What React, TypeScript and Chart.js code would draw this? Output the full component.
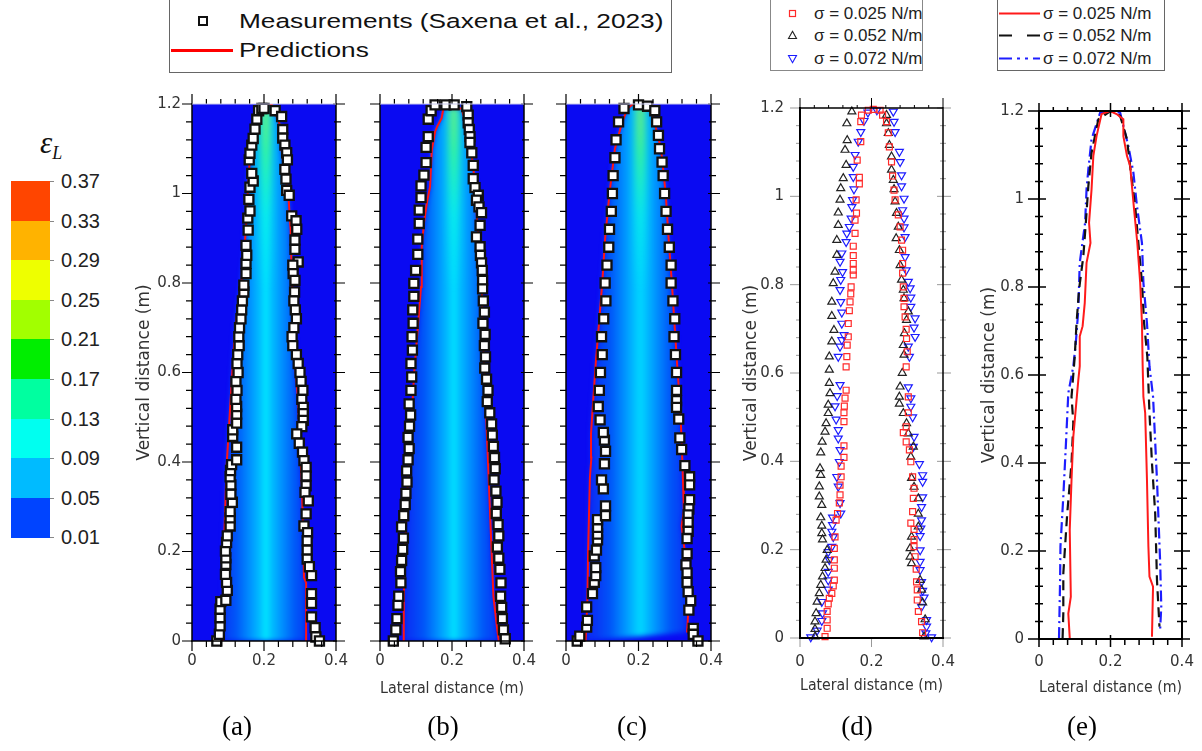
import React, { useEffect, useRef } from "react";
import { Chart, registerables } from "chart.js";

const blurPlugin = {
  id: "dsBlur",
  beforeDatasetDraw(chart: any, args: any) {
    const ds = chart.data.datasets[args.index];
    if (ds && ds.blur) {
      chart.ctx.save();
      chart.ctx.filter = `blur(${ds.blur}px)`;
    }
  },
  afterDatasetDraw(chart: any, args: any) {
    const ds = chart.data.datasets[args.index];
    if (ds && ds.blur) chart.ctx.restore();
  },
};
Chart.register(blurPlugin as any);
Chart.register(...registerables);

type Pt = [number, number];

// ---------------- axis ticks ----------------
const X_MAJOR = [0, 0.2, 0.4];
const X_MINOR = [0.04, 0.08, 0.12, 0.16, 0.24, 0.28, 0.32, 0.36];
const Y_MAJOR = [0, 0.2, 0.4, 0.6, 0.8, 1.0, 1.2];
const Y_MINOR = [0.04, 0.08, 0.12, 0.16, 0.24, 0.28, 0.32, 0.36, 0.44, 0.48, 0.52, 0.56, 0.64, 0.68, 0.72, 0.76, 0.84, 0.88, 0.92, 0.96, 1.04, 1.08, 1.12, 1.16];

// ---------------- colour bar ----------------
const CB_LABELS = ["0.37", "0.33", "0.29", "0.25", "0.21", "0.17", "0.13", "0.09", "0.05", "0.01"];
const CB_COLORS = ["#FF4500", "#FFB300", "#EEFF00", "#A2FF00", "#00EE00", "#00FFA0", "#00FFF0", "#00BBFF", "#0044FF"];

// ---------------- panel (a) ----------------
const A_MEAS_L: Pt[] = [[0.069,0.0],[0.076,0.015],[0.078,0.034],[0.078,0.052],[0.078,0.071],[0.08,0.088],[0.094,0.091],[0.098,0.113],[0.096,0.131],[0.093,0.149],[0.094,0.171],[0.094,0.186],[0.093,0.201],[0.096,0.22],[0.098,0.235],[0.106,0.257],[0.106,0.275],[0.106,0.289],[0.112,0.31],[0.108,0.328],[0.108,0.349],[0.106,0.367],[0.107,0.381],[0.11,0.394],[0.124,0.405],[0.124,0.433],[0.113,0.457],[0.113,0.472],[0.124,0.487],[0.124,0.507],[0.124,0.524],[0.122,0.54],[0.125,0.56],[0.122,0.58],[0.128,0.6],[0.125,0.62],[0.127,0.64],[0.131,0.66],[0.13,0.68],[0.132,0.7],[0.136,0.72],[0.138,0.74],[0.14,0.76],[0.144,0.78],[0.144,0.795],[0.15,0.821],[0.15,0.844],[0.152,0.862],[0.15,0.884],[0.156,0.918],[0.155,0.945],[0.161,0.961],[0.158,0.987],[0.161,1.014],[0.17,1.028],[0.166,1.045],[0.159,1.075],[0.161,1.09],[0.166,1.108],[0.17,1.123],[0.175,1.144],[0.18,1.166],[0.185,1.185],[0.194,1.19]];
const A_MEAS_R: Pt[] = [[0.2,1.19],[0.231,1.185],[0.249,1.172],[0.252,1.143],[0.252,1.124],[0.258,1.108],[0.263,1.091],[0.265,1.075],[0.258,1.054],[0.261,1.032],[0.263,1.007],[0.27,0.996],[0.277,0.95],[0.289,0.939],[0.291,0.92],[0.286,0.896],[0.286,0.875],[0.295,0.847],[0.28,0.84],[0.281,0.821],[0.286,0.806],[0.285,0.78],[0.283,0.76],[0.287,0.74],[0.29,0.72],[0.283,0.7],[0.278,0.68],[0.28,0.66],[0.29,0.64],[0.295,0.62],[0.3,0.6],[0.303,0.58],[0.308,0.56],[0.305,0.54],[0.309,0.522],[0.309,0.508],[0.309,0.493],[0.305,0.479],[0.291,0.463],[0.298,0.442],[0.307,0.422],[0.311,0.403],[0.317,0.388],[0.317,0.369],[0.317,0.347],[0.314,0.332],[0.323,0.313],[0.317,0.284],[0.311,0.257],[0.321,0.242],[0.32,0.224],[0.32,0.203],[0.32,0.183],[0.326,0.166],[0.332,0.146],[0.332,0.106],[0.332,0.084],[0.332,0.054],[0.342,0.03],[0.344,0.009],[0.354,0.0]];
const A_PRED_L: Pt[] = [[0.085,0],[0.088,0.13],[0.09,0.24],[0.096,0.39],[0.106,0.522],[0.112,0.6],[0.12,0.7],[0.137,0.8],[0.145,0.87],[0.152,0.948],[0.156,1.02],[0.161,1.082],[0.17,1.142],[0.184,1.186],[0.195,1.2]];
const A_PRED_R: Pt[] = [[0.221,1.2],[0.243,1.156],[0.249,1.097],[0.255,1.06],[0.268,0.993],[0.274,0.918],[0.277,0.821],[0.283,0.7],[0.288,0.6],[0.295,0.537],[0.298,0.46],[0.305,0.35],[0.309,0.24],[0.311,0.142],[0.317,0.13],[0.317,0]];

// ---------------- panel (b) ----------------
const B_MEAS_L: Pt[] = [[0.037,0.0],[0.044,0.025],[0.047,0.05],[0.05,0.08],[0.052,0.1],[0.058,0.13],[0.057,0.155],[0.06,0.18],[0.063,0.205],[0.065,0.23],[0.06,0.255],[0.066,0.28],[0.07,0.305],[0.072,0.33],[0.075,0.355],[0.074,0.38],[0.078,0.405],[0.081,0.43],[0.078,0.455],[0.082,0.48],[0.085,0.505],[0.081,0.53],[0.086,0.56],[0.088,0.59],[0.086,0.62],[0.09,0.65],[0.089,0.68],[0.092,0.71],[0.091,0.74],[0.094,0.77],[0.094,0.799],[0.099,0.828],[0.105,0.864],[0.105,0.898],[0.109,0.933],[0.109,0.963],[0.114,0.991],[0.114,1.017],[0.122,1.041],[0.128,1.069],[0.128,1.103],[0.134,1.127],[0.134,1.166],[0.142,1.185],[0.153,1.198]];
const B_MEAS_R: Pt[] = [[0.183,1.198],[0.206,1.198],[0.241,1.194],[0.245,1.175],[0.245,1.158],[0.248,1.143],[0.25,1.127],[0.25,1.114],[0.255,1.091],[0.259,1.063],[0.259,1.033],[0.264,1.013],[0.273,0.996],[0.268,0.985],[0.275,0.97],[0.282,0.957],[0.278,0.929],[0.268,0.903],[0.278,0.881],[0.279,0.862],[0.282,0.845],[0.284,0.828],[0.285,0.806],[0.285,0.787],[0.287,0.76],[0.29,0.735],[0.286,0.71],[0.292,0.685],[0.29,0.66],[0.293,0.635],[0.291,0.61],[0.296,0.585],[0.3,0.56],[0.298,0.535],[0.305,0.51],[0.31,0.485],[0.312,0.46],[0.315,0.435],[0.318,0.41],[0.32,0.385],[0.317,0.36],[0.322,0.335],[0.325,0.31],[0.323,0.285],[0.328,0.26],[0.33,0.235],[0.326,0.21],[0.33,0.185],[0.333,0.16],[0.336,0.13],[0.335,0.1],[0.338,0.075],[0.34,0.05],[0.343,0.025],[0.348,0.005]];
const B_PRED_L: Pt[] = [[0.064,0],[0.066,0.1],[0.07,0.2],[0.074,0.3],[0.08,0.4],[0.088,0.5],[0.095,0.6],[0.105,0.7],[0.114,0.791],[0.116,0.881],[0.122,0.933],[0.13,0.978],[0.139,1.015],[0.144,1.097],[0.153,1.138],[0.159,1.15],[0.171,1.168],[0.176,1.19]];
const B_PRED_R: Pt[] = [[0.227,1.19],[0.245,1.135],[0.259,1.06],[0.267,0.985],[0.27,0.933],[0.278,0.873],[0.282,0.813],[0.285,0.7],[0.29,0.6],[0.295,0.5],[0.3,0.4],[0.305,0.3],[0.31,0.2],[0.315,0.1],[0.325,0.03],[0.33,0]];

// ---------------- panel (c) ----------------
const C_MEAS_L: Pt[] = [[0.031,0],[0.038,0.011],[0.057,0.031],[0.059,0.046],[0.057,0.076],[0.073,0.106],[0.078,0.131],[0.082,0.146],[0.082,0.164],[0.078,0.19],[0.084,0.203],[0.087,0.226],[0.087,0.239],[0.087,0.254],[0.087,0.271],[0.109,0.28],[0.109,0.302],[0.103,0.34],[0.098,0.36],[0.106,0.396],[0.109,0.424],[0.106,0.449],[0.103,0.466],[0.094,0.494],[0.089,0.524],[0.092,0.56],[0.095,0.6],[0.1,0.64],[0.098,0.68],[0.104,0.72],[0.11,0.76],[0.108,0.8],[0.113,0.84],[0.118,0.88],[0.12,0.92],[0.125,0.96],[0.128,1.0],[0.13,1.04],[0.135,1.08],[0.138,1.12],[0.145,1.16],[0.16,1.19]];
const C_MEAS_R: Pt[] = [[0.2,1.198],[0.225,1.195],[0.245,1.185],[0.25,1.16],[0.255,1.13],[0.258,1.1],[0.265,1.07],[0.268,1.04],[0.272,1.0],[0.276,0.96],[0.28,0.92],[0.285,0.88],[0.29,0.84],[0.29,0.8],[0.295,0.76],[0.3,0.72],[0.298,0.68],[0.302,0.64],[0.305,0.6],[0.305,0.56],[0.305,0.537],[0.305,0.522],[0.311,0.496],[0.314,0.454],[0.319,0.428],[0.328,0.392],[0.341,0.367],[0.341,0.349],[0.341,0.316],[0.339,0.295],[0.337,0.282],[0.337,0.265],[0.337,0.245],[0.334,0.229],[0.334,0.195],[0.331,0.17],[0.334,0.152],[0.334,0.131],[0.337,0.11],[0.344,0.09],[0.339,0.069],[0.351,0.028],[0.351,0.015],[0.364,0]];
const C_PRED_L: Pt[] = [[0.054,0],[0.059,0.09],[0.061,0.2],[0.066,0.366],[0.07,0.41],[0.069,0.463],[0.075,0.537],[0.082,0.62],[0.09,0.7],[0.1,0.8],[0.108,0.9],[0.12,1.0],[0.135,1.1],[0.155,1.16],[0.17,1.19],[0.185,1.2]];
const C_PRED_R: Pt[] = [[0.22,1.2],[0.235,1.19],[0.262,1.1],[0.275,1.0],[0.283,0.9],[0.292,0.8],[0.3,0.7],[0.308,0.6],[0.314,0.537],[0.319,0.448],[0.323,0.351],[0.325,0.291],[0.319,0.257],[0.331,0.179],[0.339,0.09],[0.334,0.019]];

// jet core near the nozzle (top)
const CORE_SHAPE: Pt[] = [[0.186,0.78],[0.19,0.95],[0.194,1.1],[0.199,1.2],[0.211,1.2],[0.216,1.1],[0.22,0.95],[0.224,0.78]];

// ---------------- panel (d) ----------------
const D_025: Pt[] = [[0.07,0.003],[0.076,0.022],[0.076,0.041],[0.076,0.06],[0.079,0.077],[0.082,0.09],[0.089,0.101],[0.093,0.118],[0.096,0.131],[0.096,0.158],[0.096,0.177],[0.096,0.203],[0.098,0.229],[0.101,0.267],[0.105,0.282],[0.11,0.306],[0.112,0.324],[0.112,0.346],[0.115,0.365],[0.115,0.389],[0.123,0.409],[0.123,0.435],[0.123,0.49],[0.123,0.51],[0.124,0.525],[0.126,0.543],[0.129,0.561],[0.129,0.614],[0.131,0.637],[0.132,0.663],[0.135,0.682],[0.135,0.712],[0.138,0.741],[0.14,0.761],[0.142,0.779],[0.143,0.795],[0.149,0.822],[0.149,0.833],[0.149,0.848],[0.149,0.866],[0.149,0.887],[0.154,0.916],[0.154,0.946],[0.158,0.962],[0.157,0.992],[0.166,1.028],[0.166,1.043],[0.16,1.082],[0.17,1.124],[0.17,1.169],[0.172,1.184],[0.191,1.195],[0.205,1.197],[0.224,1.195],[0.231,1.184],[0.242,1.169],[0.247,1.144],[0.25,1.112],[0.256,1.078],[0.259,1.046],[0.263,1.014],[0.266,0.992],[0.275,0.958],[0.28,0.931],[0.284,0.901],[0.287,0.878],[0.287,0.848],[0.287,0.826],[0.289,0.795],[0.291,0.769],[0.291,0.75],[0.294,0.727],[0.297,0.699],[0.298,0.678],[0.3,0.648],[0.297,0.614],[0.303,0.546],[0.303,0.51],[0.297,0.478],[0.289,0.465],[0.297,0.444],[0.306,0.426],[0.31,0.399],[0.315,0.365],[0.319,0.339],[0.317,0.316],[0.315,0.286],[0.31,0.26],[0.319,0.246],[0.319,0.223],[0.319,0.207],[0.322,0.184],[0.325,0.156],[0.326,0.127],[0.328,0.109],[0.328,0.086],[0.331,0.06],[0.34,0.037],[0.343,0.012]];
const D_052: Pt[] = [[0.042,0.003],[0.042,0.02],[0.042,0.037],[0.045,0.056],[0.048,0.082],[0.054,0.101],[0.058,0.12],[0.063,0.139],[0.07,0.158],[0.073,0.177],[0.076,0.199],[0.063,0.223],[0.061,0.237],[0.061,0.254],[0.058,0.273],[0.061,0.301],[0.054,0.32],[0.054,0.343],[0.058,0.369],[0.056,0.384],[0.058,0.42],[0.062,0.444],[0.07,0.467],[0.073,0.486],[0.079,0.509],[0.079,0.528],[0.084,0.554],[0.082,0.577],[0.082,0.607],[0.082,0.637],[0.089,0.671],[0.095,0.697],[0.089,0.729],[0.089,0.761],[0.093,0.803],[0.098,0.829],[0.103,0.867],[0.103,0.901],[0.107,0.935],[0.107,0.963],[0.112,0.992],[0.114,1.018],[0.121,1.041],[0.129,1.071],[0.126,1.105],[0.132,1.127],[0.131,1.165],[0.145,1.192],[0.242,1.184],[0.242,1.165],[0.247,1.143],[0.25,1.116],[0.256,1.09],[0.256,1.06],[0.261,1.037],[0.263,1.016],[0.266,0.988],[0.27,0.962],[0.275,0.931],[0.269,0.905],[0.278,0.878],[0.28,0.844],[0.284,0.811],[0.289,0.788],[0.291,0.769],[0.303,0.739],[0.298,0.72],[0.292,0.69],[0.289,0.663],[0.291,0.641],[0.286,0.6],[0.28,0.569],[0.278,0.546],[0.278,0.53],[0.289,0.509],[0.298,0.486],[0.303,0.463],[0.317,0.433],[0.31,0.41],[0.312,0.362],[0.319,0.342],[0.331,0.316],[0.331,0.281],[0.331,0.252],[0.312,0.229],[0.308,0.203],[0.308,0.184],[0.312,0.169],[0.336,0.131],[0.34,0.109],[0.343,0.08],[0.35,0.042],[0.347,0.003]];
const D_072: Pt[] = [[0.03,0.002],[0.048,0.017],[0.061,0.039],[0.063,0.056],[0.061,0.082],[0.079,0.11],[0.079,0.131],[0.079,0.15],[0.082,0.177],[0.079,0.195],[0.089,0.207],[0.093,0.229],[0.089,0.241],[0.091,0.256],[0.091,0.273],[0.114,0.282],[0.112,0.306],[0.107,0.343],[0.103,0.365],[0.11,0.399],[0.112,0.426],[0.107,0.452],[0.107,0.471],[0.101,0.495],[0.098,0.525],[0.104,0.548],[0.112,0.573],[0.107,0.637],[0.112,0.66],[0.117,0.675],[0.123,0.686],[0.117,0.712],[0.117,0.737],[0.114,0.761],[0.112,0.788],[0.114,0.811],[0.119,0.829],[0.112,0.852],[0.117,0.871],[0.129,0.897],[0.131,0.916],[0.138,0.931],[0.143,0.95],[0.145,0.976],[0.147,0.992],[0.151,1.016],[0.149,1.044],[0.149,1.067],[0.154,1.094],[0.163,1.124],[0.17,1.146],[0.179,1.171],[0.19,1.19],[0.215,1.195],[0.261,1.192],[0.263,1.169],[0.266,1.146],[0.278,1.101],[0.28,1.078],[0.284,1.048],[0.284,1.023],[0.291,0.995],[0.287,0.969],[0.291,0.95],[0.291,0.93],[0.294,0.908],[0.294,0.863],[0.297,0.833],[0.303,0.807],[0.308,0.792],[0.31,0.771],[0.31,0.75],[0.322,0.724],[0.319,0.703],[0.322,0.682],[0.303,0.66],[0.306,0.637],[0.303,0.568],[0.31,0.543],[0.31,0.524],[0.315,0.5],[0.319,0.456],[0.317,0.433],[0.334,0.394],[0.343,0.369],[0.343,0.354],[0.343,0.319],[0.34,0.297],[0.34,0.267],[0.338,0.248],[0.336,0.231],[0.336,0.199],[0.336,0.173],[0.336,0.154],[0.34,0.127],[0.343,0.107],[0.347,0.092],[0.34,0.071],[0.354,0.041],[0.354,0.026],[0.352,0.011],[0.368,0.002]];

// ---------------- panel (e) ----------------
const E_025: Pt[] = [[0.086,0.002],[0.082,0.058],[0.089,0.096],[0.086,0.248],[0.091,0.362],[0.096,0.46],[0.11,0.589],[0.114,0.62],[0.114,0.688],[0.122,0.711],[0.128,0.764],[0.133,0.855],[0.144,0.9],[0.14,0.946],[0.147,1.022],[0.152,1.098],[0.161,1.143],[0.175,1.193],[0.199,1.2],[0.217,1.193],[0.236,1.181],[0.236,1.143],[0.246,1.098],[0.255,1.075],[0.26,1.029],[0.266,0.976],[0.275,0.9],[0.283,0.81],[0.288,0.718],[0.29,0.62],[0.292,0.551],[0.297,0.514],[0.302,0.362],[0.306,0.21],[0.309,0.142],[0.319,0.119],[0.316,0.005]];
const E_052: Pt[] = [[0.066,0.002],[0.068,0.058],[0.068,0.149],[0.079,0.286],[0.091,0.4],[0.096,0.491],[0.091,0.551],[0.1,0.642],[0.105,0.718],[0.112,0.794],[0.124,0.87],[0.131,0.946],[0.138,1.029],[0.147,1.105],[0.166,1.181],[0.2,1.2],[0.227,1.189],[0.246,1.136],[0.257,1.06],[0.269,0.984],[0.278,0.9],[0.288,0.81],[0.294,0.718],[0.303,0.642],[0.309,0.514],[0.316,0.4],[0.325,0.286],[0.33,0.134],[0.337,0.028]];
const E_072: Pt[] = [[0.056,0.002],[0.059,0.134],[0.06,0.21],[0.068,0.324],[0.075,0.438],[0.082,0.559],[0.096,0.62],[0.103,0.673],[0.11,0.749],[0.114,0.855],[0.129,0.946],[0.133,1.022],[0.138,1.067],[0.147,1.136],[0.171,1.196],[0.2,1.2],[0.227,1.196],[0.25,1.12],[0.264,1.06],[0.274,0.984],[0.288,0.9],[0.292,0.81],[0.302,0.718],[0.309,0.62],[0.319,0.551],[0.33,0.362],[0.339,0.172],[0.342,0.074],[0.339,0.024]];

const SIGMA_LABELS = ["σ = 0.025 N/m", "σ = 0.052 N/m", "σ = 0.072 N/m"];
const PANEL_LABELS = ["(a)", "(b)", "(c)", "(d)", "(e)"];

// ---------------- styling ----------------
const SANS = "'Liberation Sans', Arial, sans-serif";
const TICKF = "'DejaVu Sans', sans-serif";
const SERIF = "'Liberation Serif', 'Times New Roman', serif";
const BG_BLUE = "#0A0AF2";
const ML = 80, MR = 30, MT = 25, MB = 75;

const xy = (p: Pt[]) => p.map(([x, y]) => ({ x, y }));
const fmt = (v: number) => String(Math.round(v * 10) / 10);

interface Side { color: string; width: number; tickColor: string; tickWidth: number; majOut: number; majIn: number; minOut: number; minIn: number; }
interface Sides { left: Side; right: Side; top: Side; bottom: Side; }
interface PanelCfg {
  left: number; top: number; right: number; bottom: number;
  datasets: () => any[];
  yLabels: boolean; xPad: number; yPad: number; tickSize: number;
  yTitlePad?: number; xTitlePad?: number;
  sides: Sides; bg?: string;
}

const S = (color: string, width: number, tickColor: string, tickWidth: number, majOut: number, majIn: number, minOut: number, minIn: number): Side =>
  ({ color, width, tickColor, tickWidth, majOut, majIn, minOut, minIn });

const SIDES_ABC: Sides = {
  left: S("#000", 1.5, "#000", 1.2, 10, 0, 6, 0),
  right: S("#000", 1.5, "#000", 1.2, 9, 3, 5, 2),
  top: S("#c8c8ee", 1, "#000", 1.2, 10, 0, 5, 0),
  bottom: S("#000", 1.5, "#000", 1.2, 10, 0, 6, 0),
};
const SIDES_D: Sides = {
  left: S("#000", 2, "#999", 1, 10, 0, 4, 0),
  right: S("#000", 1.5, "#999", 1, 8, 6, 3, 3),
  top: S("#000", 1.5, "#000", 1, 10, 0, 3, 0),
  bottom: S("#000", 2, "#999", 1, 9, 0, 0, 0),
};
const SIDES_E: Sides = {
  left: S("#000", 2, "#000", 1.5, 11, 7, 4, 4),
  right: S("#000", 2, "#000", 1.5, 8, 8, 5, 5),
  top: S("#000", 2, "#000", 1.5, 8, 6, 4, 0),
  bottom: S("#000", 2, "#000", 1.5, 8, 4, 6, 0),
};

function plumeFill(center: string) {
  return (c: any) => {
    const chart = c.chart;
    const xs = chart.scales && chart.scales.x;
    if (!chart.chartArea || !xs) return center;
    const g = chart.ctx.createLinearGradient(xs.getPixelForValue(0.075), 0, xs.getPixelForValue(0.335), 0);
    g.addColorStop(0, "#0A30F4");
    g.addColorStop(0.18, "#0055F8");
    g.addColorStop(0.34, "#0095FF");
    g.addColorStop(0.46, "#00C8FF");
    g.addColorStop(0.5, center);
    g.addColorStop(0.54, "#00C8FF");
    g.addColorStop(0.66, "#0095FF");
    g.addColorStop(0.82, "#0055F8");
    g.addColorStop(1, "#0A30F4");
    return g;
  };
}
function coreFill(c: any) {
  const chart = c.chart;
  const ys = chart.scales && chart.scales.y;
  if (!chart.chartArea || !ys) return "rgba(0,0,0,0)";
  const g = chart.ctx.createLinearGradient(0, ys.getPixelForValue(0.78), 0, ys.getPixelForValue(1.2));
  g.addColorStop(0, "rgba(0,255,230,0)");
  g.addColorStop(0.4, "rgba(20,255,210,0.45)");
  g.addColorStop(0.75, "rgba(80,255,110,0.85)");
  g.addColorStop(1, "rgba(190,255,20,1)");
  return g;
}

function contourSets(measL: Pt[], measR: Pt[], predL: Pt[], predR: Pt[], center: string) {
  return () => [
    { data: xy([...predL, ...predR]), showLine: true, borderWidth: 0, borderColor: "rgba(0,0,0,0)", pointRadius: 0, fill: "shape", backgroundColor: plumeFill(center), blur: 2.5, order: 4 },
    { data: xy(CORE_SHAPE), showLine: true, borderWidth: 0, borderColor: "rgba(0,0,0,0)", pointRadius: 0, fill: "shape", backgroundColor: coreFill, blur: 4, order: 3 },
    { data: xy([...predL, ...predR]), showLine: true, borderColor: "#FF1414", borderWidth: 2, pointRadius: 0, fill: false, order: 2 },
    { data: xy([...measL, ...measR]), showLine: false, pointStyle: "rect", pointRadius: 6.4, pointBackgroundColor: "#ffffff", pointBorderColor: "#111", pointBorderWidth: 2.3, clip: false, order: 1 },
  ];
}

const markerSets = () => [
  { data: xy(D_025), showLine: false, pointStyle: "rect", pointRadius: 4.2, pointBackgroundColor: "rgba(0,0,0,0)", pointBorderColor: "#FF2A2A", pointBorderWidth: 1.2, clip: false },
  { data: xy(D_052), showLine: false, pointStyle: "triangle", pointRadius: 4.6, pointBackgroundColor: "rgba(0,0,0,0)", pointBorderColor: "#222", pointBorderWidth: 1.2, clip: false },
  { data: xy(D_072), showLine: false, pointStyle: "triangle", pointRotation: 180, pointRadius: 4.6, pointBackgroundColor: "rgba(0,0,0,0)", pointBorderColor: "#1C1CFF", pointBorderWidth: 1.2, clip: false },
];
const lineSets = () => [
  { data: xy(E_072), showLine: true, borderColor: "#1E1EFF", borderWidth: 2.2, borderDash: [11, 4, 2, 4], pointRadius: 0, fill: false, order: 3 },
  { data: xy(E_052), showLine: true, borderColor: "#111", borderWidth: 2.2, borderDash: [10, 6], pointRadius: 0, fill: false, order: 2 },
  { data: xy(E_025), showLine: true, borderColor: "#FF1A1A", borderWidth: 2, pointRadius: 0, fill: false, order: 1 },
];

const PANELS: PanelCfg[] = [
  { left: 192, top: 104, right: 336, bottom: 641, datasets: contourSets(A_MEAS_L, A_MEAS_R, A_PRED_L, A_PRED_R, "#00EEFF"), yLabels: true, xPad: 11, yPad: 11, tickSize: 15, yTitlePad: 22, sides: SIDES_ABC, bg: BG_BLUE },
  { left: 380, top: 104, right: 524, bottom: 641, datasets: contourSets(B_MEAS_L, B_MEAS_R, B_PRED_L, B_PRED_R, "#00E6FF"), yLabels: false, xPad: 11, yPad: 11, tickSize: 15, xTitlePad: 18, sides: SIDES_ABC, bg: BG_BLUE },
  { left: 566, top: 104, right: 711, bottom: 641, datasets: contourSets(C_MEAS_L, C_MEAS_R, C_PRED_L, C_PRED_R, "#00D8FF"), yLabels: false, xPad: 11, yPad: 11, tickSize: 15, sides: SIDES_ABC, bg: BG_BLUE },
  { left: 800, top: 108, right: 943, bottom: 638, datasets: markerSets, yLabels: true, xPad: 15, yPad: 16, tickSize: 15, yTitlePad: 21, xTitlePad: 18, sides: SIDES_D },
  { left: 1039, top: 111, right: 1182, bottom: 639, datasets: lineSets, yLabels: true, xPad: 14, yPad: 15, tickSize: 15, yTitlePad: 20, xTitlePad: 17, sides: SIDES_E },
];

function makeFrame(cfg: PanelCfg) {
  return {
    id: "frame",
    beforeDatasetsDraw(chart: any) {
      if (!cfg.bg) return;
      const { ctx, chartArea: a } = chart;
      ctx.save();
      ctx.fillStyle = cfg.bg;
      ctx.fillRect(a.left, a.top, a.right - a.left, a.bottom - a.top);
      ctx.restore();
    },
    afterDatasetsDraw(chart: any) {
      const { ctx, chartArea: a, scales } = chart;
      const xs = scales.x, ys = scales.y;
      ctx.save();
      ctx.lineCap = "butt";
      const tick = (s: Side, side: string, vals: number[], out: number, inn: number) => {
        if (out + inn <= 0) return;
        ctx.strokeStyle = s.tickColor;
        ctx.lineWidth = s.tickWidth;
        ctx.beginPath();
        for (const v of vals) {
          if (side === "left" || side === "right") {
            const p = ys.getPixelForValue(v);
            const x0 = side === "left" ? a.left : a.right;
            const sg = side === "left" ? -1 : 1;
            ctx.moveTo(x0 + sg * out, p);
            ctx.lineTo(x0 - sg * inn, p);
          } else {
            const p = xs.getPixelForValue(v);
            const y0 = side === "top" ? a.top : a.bottom;
            const sg = side === "top" ? -1 : 1;
            ctx.moveTo(p, y0 + sg * out);
            ctx.lineTo(p, y0 - sg * inn);
          }
        }
        ctx.stroke();
      };
      const sidesArr: (keyof Sides)[] = ["left", "right", "top", "bottom"];
      for (const side of sidesArr) {
        const s = cfg.sides[side];
        const horiz = side === "top" || side === "bottom";
        tick(s, side, horiz ? X_MINOR : Y_MINOR, s.minOut, s.minIn);
        tick(s, side, horiz ? X_MAJOR : Y_MAJOR, s.majOut, s.majIn);
      }
      for (const side of sidesArr) {
        const s = cfg.sides[side];
        ctx.strokeStyle = s.color;
        ctx.lineWidth = s.width;
        ctx.beginPath();
        const e = s.width / 2;
        if (side === "left") { ctx.moveTo(a.left, a.top - e); ctx.lineTo(a.left, a.bottom + e); }
        if (side === "right") { ctx.moveTo(a.right, a.top - e); ctx.lineTo(a.right, a.bottom + e); }
        if (side === "top") { ctx.moveTo(a.left, a.top); ctx.lineTo(a.right, a.top); }
        if (side === "bottom") { ctx.moveTo(a.left - e, a.bottom); ctx.lineTo(a.right + e, a.bottom); }
        ctx.stroke();
      }
      ctx.restore();
    },
  };
}

function PanelChart({ cfg }: { cfg: PanelCfg }) {
  const ref = useRef<HTMLCanvasElement>(null);
  const w = cfg.right - cfg.left + ML + MR;
  const h = cfg.bottom - cfg.top + MT + MB;
  useEffect(() => {
    const font = { family: TICKF, size: cfg.tickSize };
    const titleFontY = { family: TICKF, size: 17 };
    const titleFontX = { family: TICKF, size: 15 };
    const chart = new Chart(ref.current as HTMLCanvasElement, {
      type: "scatter",
      data: { datasets: cfg.datasets() },
      options: {
        animation: false,
        responsive: false,
        maintainAspectRatio: false,
        events: [],
        layout: { padding: { left: 0, top: MT, right: MR, bottom: 0 } },
        plugins: { legend: { display: false }, tooltip: { enabled: false } },
        scales: {
          x: {
            type: "linear", min: 0, max: 0.4,
            afterBuildTicks: (s: any) => { s.ticks = X_MAJOR.map((v) => ({ value: v })); },
            grid: { display: false, drawTicks: false },
            border: { display: false },
            ticks: { padding: cfg.xPad, font, color: "#333", autoSkip: false, maxRotation: 0, callback: (v: any) => fmt(Number(v)) },
            title: cfg.xTitlePad != null
              ? { display: true, text: "Lateral distance (m)", font: titleFontX, color: "#333", padding: { top: 0, bottom: cfg.xTitlePad } }
              : { display: false },
            afterFit: (s: any) => { s.height = MB; },
          },
          y: {
            type: "linear", min: 0, max: 1.2,
            afterBuildTicks: (s: any) => { s.ticks = Y_MAJOR.map((v) => ({ value: v })); },
            grid: { display: false, drawTicks: false },
            border: { display: false },
            ticks: { display: cfg.yLabels, padding: cfg.yPad, font, color: "#333", autoSkip: false, callback: (v: any) => fmt(Number(v)) },
            title: cfg.yTitlePad != null
              ? { display: true, text: "Vertical distance (m)", font: titleFontY, color: "#333", padding: { top: cfg.yTitlePad, bottom: 0 } }
              : { display: false },
            afterFit: (s: any) => { s.width = ML; },
          },
        },
      } as any,
      plugins: [makeFrame(cfg)],
    });
    return () => chart.destroy();
  }, []);
  return (
    <canvas
      ref={ref}
      width={w}
      height={h}
      style={{ position: "absolute", left: cfg.left - ML, top: cfg.top - MT, width: w, height: h }}
    />
  );
}

function ColorBar() {
  const top = 181, band = 39.6, left = 11, width = 39;
  return (
    <div>
      <div style={{ position: "absolute", left: 40, top: 128, fontFamily: SERIF, fontStyle: "italic", fontSize: 31, color: "#111", lineHeight: "30px" }}>
        ε<span style={{ fontSize: 18, position: "relative", top: 6 }}>L</span>
      </div>
      {CB_COLORS.map((c, i) => (
        <div key={c} style={{ position: "absolute", left, top: top + i * band, width, height: band + 0.6, background: c }} />
      ))}
      {CB_LABELS.map((t, i) => (
        <React.Fragment key={t}>
          <div style={{ position: "absolute", left: left + width, top: top + i * band, width: 4, height: 1, background: "#888" }} />
          <div style={{ position: "absolute", left: 61, top: top + i * band - 12, fontFamily: SANS, fontSize: 20, lineHeight: "24px", color: "#222" }}>{t}</div>
        </React.Fragment>
      ))}
    </div>
  );
}

function Legends() {
  const txt = { position: "absolute" as const, fontFamily: SANS, fontSize: 17, lineHeight: "20px", color: "#222", whiteSpace: "nowrap" as const };
  const rows = [13.5, 35.5, 58.5];
  return (
    <div>
      {/* legend for a-c */}
      <div style={{ position: "absolute", left: 169, top: -3, width: 503, height: 76, border: "1px solid #666", boxSizing: "border-box", background: "#fff" }} />
      <div style={{ position: "absolute", left: 198, top: 16, width: 10, height: 10, border: "2.5px solid #111", boxSizing: "border-box", background: "#fff" }} />
      <div style={{ position: "absolute", left: 171, top: 49, width: 62, height: 3, background: "#FF0000" }} />
      <div style={{ position: "absolute", left: 239, top: 8, fontFamily: SANS, fontSize: 20.5, lineHeight: "26px", color: "#111", whiteSpace: "nowrap", transform: "scaleX(1.28)", transformOrigin: "0 0" }}>Measurements (Saxena et al., 2023)</div>
      <div style={{ position: "absolute", left: 239, top: 37, fontFamily: SANS, fontSize: 20.5, lineHeight: "26px", color: "#111", whiteSpace: "nowrap", transform: "scaleX(1.28)", transformOrigin: "0 0" }}>Predictions</div>

      {/* legend for d */}
      <div style={{ position: "absolute", left: 770, top: -3, width: 153, height: 74, border: "1px solid #888", boxSizing: "border-box", background: "#fff" }} />
      <svg style={{ position: "absolute", left: 770, top: 0 }} width={60} height={70}>
        <rect x={19.5} y={rows[0] - 3} width={6} height={6} fill="none" stroke="#FF2A2A" strokeWidth={1.2} />
        <polygon points={`${22.5},${rows[1] - 4.2} ${26.5},${rows[1] + 3} ${18.5},${rows[1] + 3}`} fill="none" stroke="#222" strokeWidth={1.1} />
        <polygon points={`${22.5},${rows[2] + 4.2} ${26.5},${rows[2] - 3} ${18.5},${rows[2] - 3}`} fill="none" stroke="#1C1CFF" strokeWidth={1.1} />
      </svg>
      {SIGMA_LABELS.map((t, i) => (
        <div key={"d" + t} style={{ ...txt, left: 814, top: rows[i] - 10 }}>{t}</div>
      ))}

      {/* legend for e */}
      <div style={{ position: "absolute", left: 997, top: -3, width: 168, height: 74, border: "1px solid #666", boxSizing: "border-box", background: "#fff" }} />
      <svg style={{ position: "absolute", left: 997, top: 0 }} width={50} height={70}>
        <line x1={2} x2={43} y1={rows[0]} y2={rows[0]} stroke="#FF1A1A" strokeWidth={2} />
        <line x1={2} x2={43} y1={rows[1]} y2={rows[1]} stroke="#111" strokeWidth={2.2} strokeDasharray="13 15 13" />
        <line x1={2} x2={43} y1={rows[2]} y2={rows[2]} stroke="#1E1EFF" strokeWidth={2.2} strokeDasharray="13 5 3 5 3 5" />
      </svg>
      {SIGMA_LABELS.map((t, i) => (
        <div key={"e" + t} style={{ ...txt, left: 1043, top: rows[i] - 10 }}>{t}</div>
      ))}
    </div>
  );
}

const LABEL_X = [237, 443, 632, 857, 1082];

export default function App() {
  return (
    <div style={{ position: "absolute", left: 0, top: 0, width: 1202, height: 751, background: "#fff", overflow: "hidden" }}>
      <ColorBar />
      <Legends />
      {PANELS.map((p, i) => (
        <PanelChart key={i} cfg={p} />
      ))}
      {PANEL_LABELS.map((t, i) => (
        <div key={t} style={{ position: "absolute", left: LABEL_X[i] - 40, width: 80, top: 710, textAlign: "center", fontFamily: SERIF, fontSize: 27, lineHeight: "32px", color: "#000" }}>{t}</div>
      ))}
    </div>
  );
}
